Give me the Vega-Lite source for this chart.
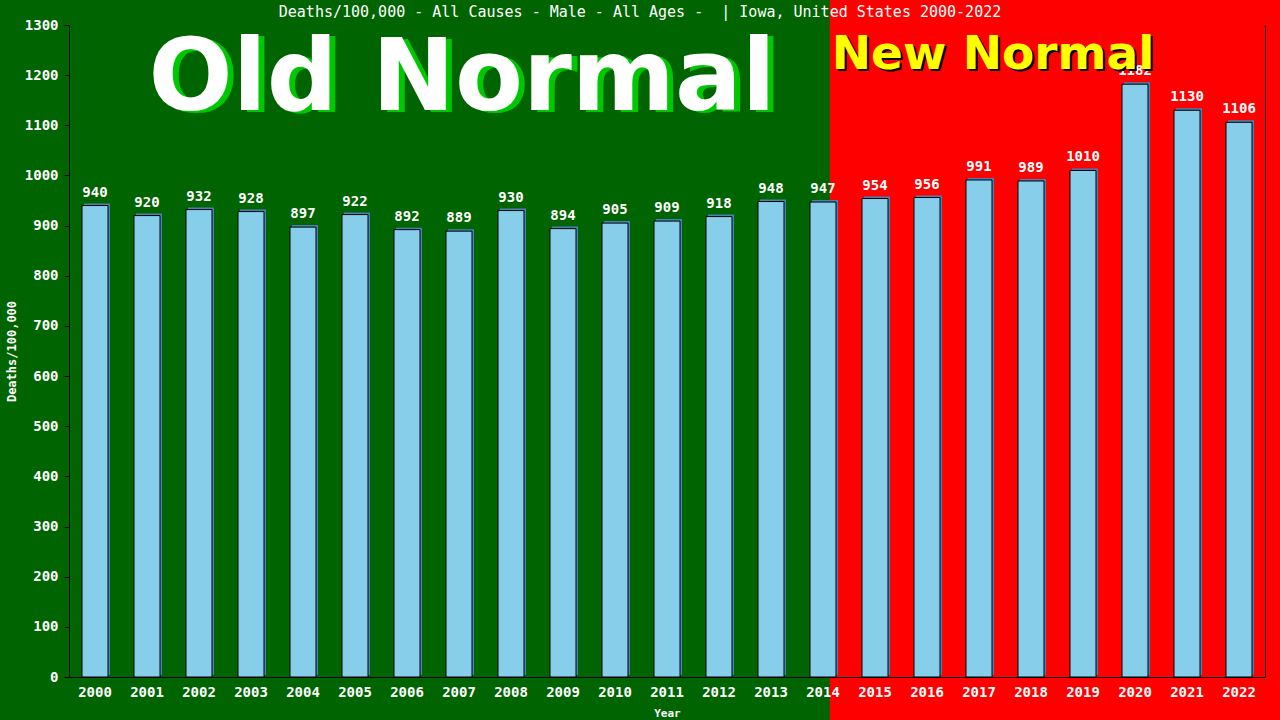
{
  "$schema": "https://vega.github.io/schema/vega-lite/v6.json",
  "description": "Deaths per 100,000, all causes, male, all ages, Iowa 2000-2022",
  "autosize": {"type": "none"},
  "padding": {"left": 69, "top": 25, "right": 15, "bottom": 43},
  "width": 1196,
  "height": 652,
  "background": "#006400",
  "title": {
    "text": "Deaths/100,000 - All Causes - Male - All Ages -\u00a0 | Iowa, United States 2000-2022",
    "font": "DejaVu Sans Mono",
    "fontSize": 15,
    "fontWeight": "normal",
    "color": "white",
    "anchor": "middle",
    "baseline": "bottom",
    "offset": 0,
    "dx": -27,
    "dy": 36
  },
  "data": {
    "values": [
      {"Year": "2000", "Rate": 940},
      {"Year": "2001", "Rate": 920},
      {"Year": "2002", "Rate": 932},
      {"Year": "2003", "Rate": 928},
      {"Year": "2004", "Rate": 897},
      {"Year": "2005", "Rate": 922},
      {"Year": "2006", "Rate": 892},
      {"Year": "2007", "Rate": 889},
      {"Year": "2008", "Rate": 930},
      {"Year": "2009", "Rate": 894},
      {"Year": "2010", "Rate": 905},
      {"Year": "2011", "Rate": 909},
      {"Year": "2012", "Rate": 918},
      {"Year": "2013", "Rate": 948},
      {"Year": "2014", "Rate": 947},
      {"Year": "2015", "Rate": 954},
      {"Year": "2016", "Rate": 956},
      {"Year": "2017", "Rate": 991},
      {"Year": "2018", "Rate": 989},
      {"Year": "2019", "Rate": 1010},
      {"Year": "2020", "Rate": 1182},
      {"Year": "2021", "Rate": 1130},
      {"Year": "2022", "Rate": 1106}
    ]
  },
  "layer": [
    {
      "data": {"values": [{"start": 2014.13, "end": 2023.5, "top": 1352, "bottom": -120}]},
      "mark": {"type": "rect", "color": "#ff0000"},
      "encoding": {
        "x": {"field": "start", "type": "quantitative", "axis": null,
              "scale": {"domain": [1999.5, 2022.5], "nice": false, "zero": false}},
        "x2": {"field": "end"},
        "y": {"field": "top", "type": "quantitative", "axis": null,
              "scale": {"domain": [0, 1300], "nice": false}},
        "y2": {"field": "bottom"}
      }
    },
    {
      "encoding": {
        "x": {
          "field": "Year",
          "type": "ordinal",
          "scale": {"paddingInner": 0.5, "paddingOuter": 0.25},
          "axis": {
            "title": "Year",
            "labelAngle": 0,
            "ticks": false,
            "labelPadding": 8,
            "domainColor": "black",
            "labelColor": "white",
            "labelFont": "DejaVu Sans Mono",
            "labelFontSize": 14,
            "labelFontWeight": "bold",
            "titleColor": "white",
            "titleFont": "DejaVu Sans Mono",
            "titleFontSize": 11,
            "titleFontWeight": "bold",
            "titlePadding": 8,
            "zindex": 1
          }
        },
        "y": {
          "field": "Rate",
          "type": "quantitative",
          "scale": {"domain": [0, 1300], "nice": false},
          "axis": {
            "title": "Deaths/100,000",
            "format": "d",
            "values": [0, 100, 200, 300, 400, 500, 600, 700, 800, 900, 1000, 1100, 1200, 1300],
            "grid": false,
            "tickSize": 5,
            "tickColor": "black",
            "domainColor": "black",
            "labelPadding": 6,
            "labelColor": "white",
            "labelFont": "DejaVu Sans Mono",
            "labelFontSize": 14,
            "labelFontWeight": "bold",
            "titleColor": "white",
            "titleFont": "DejaVu Sans Mono",
            "titleFontSize": 12,
            "titleFontWeight": "bold",
            "titlePadding": 6,
            "zindex": 1
          }
        }
      },
      "layer": [
        {"mark": {"type": "bar", "color": "#4682b4", "xOffset": 2, "yOffset": -2}},
        {"mark": {"type": "bar", "fill": "#87ceeb", "stroke": "black", "strokeWidth": 1}},
        {
          "mark": {"type": "text", "color": "white", "font": "DejaVu Sans Mono", "fontSize": 14,
                   "fontWeight": "bold", "baseline": "alphabetic", "dy": -9},
          "encoding": {"text": {"field": "Rate", "type": "quantitative"}}
        }
      ]
    },
    {
      "data": {"values": [{"label": "Old Normal", "x": 2007.06, "y": 1131}]},
      "encoding": {
        "x": {"field": "x", "type": "quantitative", "axis": null,
              "scale": {"domain": [1999.5, 2022.5], "nice": false, "zero": false}},
        "y": {"field": "y", "type": "quantitative",
              "scale": {"domain": [0, 1300], "nice": false},
              "axis": {"orient": "right", "labels": false, "ticks": false, "title": null,
                       "grid": false, "domainColor": "black", "zindex": 1}},
        "text": {"field": "label"}
      },
      "layer": [
        {"mark": {"type": "text", "font": "DejaVu Sans", "fontWeight": "bold", "fontSize": 99,
                  "baseline": "alphabetic", "align": "center", "color": "#00c800", "dx": 6, "dy": 2}},
        {"mark": {"type": "text", "font": "DejaVu Sans", "fontWeight": "bold", "fontSize": 99,
                  "baseline": "alphabetic", "align": "center", "color": "white"}}
      ]
    },
    {
      "data": {"values": [{"label": "New Normal", "x": 2017.27, "y": 1212}]},
      "encoding": {
        "x": {"field": "x", "type": "quantitative", "axis": null,
              "scale": {"domain": [1999.5, 2022.5], "nice": false, "zero": false}},
        "y": {"field": "y", "type": "quantitative", "axis": null,
              "scale": {"domain": [0, 1300], "nice": false}},
        "text": {"field": "label"}
      },
      "layer": [
        {"mark": {"type": "text", "font": "DejaVu Sans", "fontWeight": "bold", "fontSize": 47,
                  "baseline": "alphabetic", "align": "center", "color": "black", "dx": 2, "dy": 2}},
        {"mark": {"type": "text", "font": "DejaVu Sans", "fontWeight": "bold", "fontSize": 47,
                  "baseline": "alphabetic", "align": "center", "color": "#ffff00"}}
      ]
    }
  ],
  "resolve": {"scale": {"x": "independent"}, "axis": {"y": "independent"}},
  "config": {"view": {"stroke": null}}
}
